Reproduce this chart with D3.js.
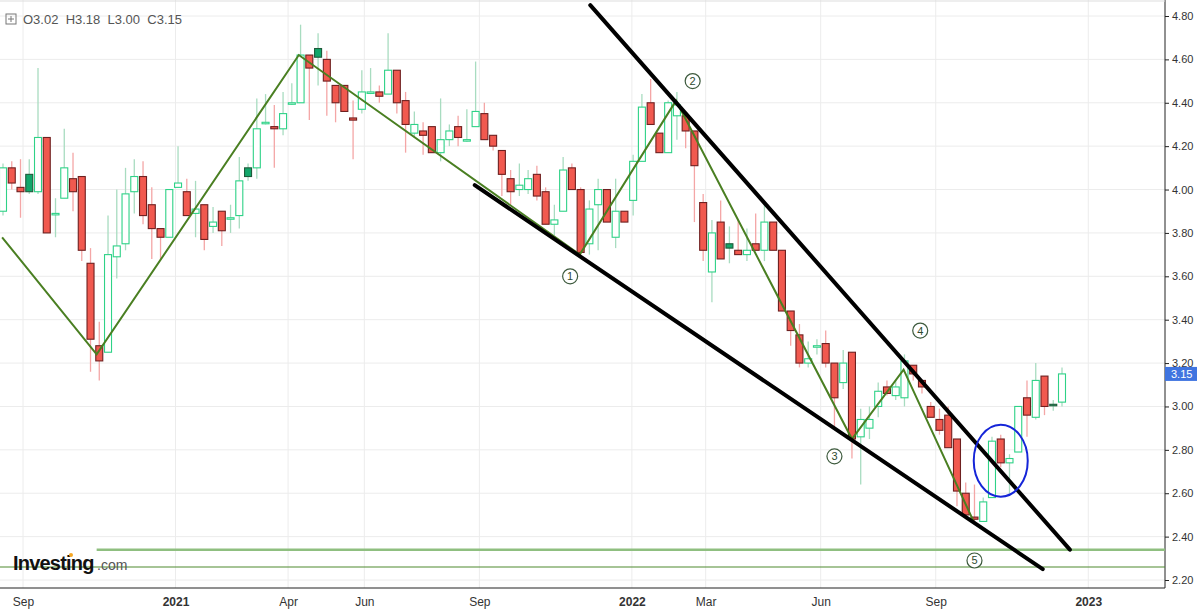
<!DOCTYPE html>
<html><head><meta charset="utf-8">
<script src="https://cdn.jsdelivr.net/npm/d3@7"></script>
<style>body{margin:0;background:#fff;font-family:Arial,"Liberation Sans",sans-serif}</style>
</head><body><div id="stage"></div>
<script>
// weekly candles
const opens  = [3.90,4.10,4.01,3.99,3.99,4.24,3.89,3.96,4.05,4.06,3.66,3.28,3.25,3.69,3.75,3.99,4.06,3.93,3.82,3.78,4.01,3.99,3.89,3.93,3.83,3.90,3.87,3.88,4.06,4.10,4.31,4.29,4.28,4.40,4.40,4.62,4.61,4.60,4.48,4.48,4.33,4.37,4.45,4.45,4.44,4.55,4.41,4.26,4.27,4.29,4.17,4.23,4.29,4.23,4.29,4.35,4.25,4.18,4.05,4.00,4.00,4.07,3.99,3.84,3.90,4.10,4.00,3.75,3.93,4.00,3.78,3.90,3.95,4.13,4.40,4.26,4.17,4.34,4.34,4.27,3.94,3.62,3.85,3.73,3.72,3.70,3.75,3.72,3.85,3.72,3.44,3.33,3.20,3.28,3.29,3.20,3.11,3.25,2.86,2.90,3.00,3.09,3.05,3.04,3.19,3.12,3.00,2.94,2.96,2.85,2.60,2.49,2.47,2.58,2.85,2.74,2.79,3.04,2.95,3.14,3.01,3.02];
const highs  = [4.12,4.13,4.14,4.14,4.56,4.24,3.96,4.28,4.17,4.06,3.73,3.39,3.88,4.00,4.10,4.14,4.13,4.01,3.82,4.00,4.20,4.05,4.04,3.93,3.92,3.90,3.93,4.15,4.12,4.42,4.44,4.39,4.45,4.49,4.76,4.62,4.72,4.64,4.48,4.48,4.41,4.55,4.56,4.48,4.72,4.55,4.45,4.36,4.31,4.29,4.42,4.30,4.34,4.37,4.59,4.40,4.25,4.18,4.09,4.12,4.09,4.11,4.01,3.93,4.15,4.12,4.01,3.95,4.05,4.00,4.05,3.90,4.16,4.44,4.51,4.26,4.41,4.45,4.36,4.27,3.98,3.86,3.95,3.83,3.86,3.82,3.89,3.94,3.85,3.72,3.44,3.38,3.30,3.31,3.35,3.20,3.26,3.25,2.99,3.00,3.11,3.12,3.12,3.24,3.19,3.12,3.02,2.99,3.00,2.85,2.65,2.64,2.58,2.86,2.87,2.78,3.00,3.12,3.20,3.14,3.03,3.18];
const lows   = [3.88,4.00,3.87,3.98,3.98,3.80,3.78,3.96,3.90,3.67,3.16,3.12,3.25,3.59,3.72,3.89,3.84,3.68,3.68,3.78,4.01,3.88,3.78,3.72,3.80,3.74,3.80,3.82,4.04,4.05,4.30,4.10,4.25,4.39,4.40,4.32,4.48,4.34,4.31,4.36,4.14,4.35,4.44,4.40,4.44,4.35,4.17,4.24,4.16,4.17,4.13,4.20,4.20,4.22,4.29,4.23,4.18,3.97,3.93,3.97,3.98,3.95,3.84,3.79,3.90,4.00,3.70,3.70,3.72,3.85,3.73,3.85,3.88,4.13,4.30,4.17,4.17,4.23,4.19,3.85,3.67,3.48,3.68,3.66,3.70,3.67,3.72,3.67,3.72,3.44,3.28,3.18,3.18,3.24,3.18,2.90,3.08,2.76,2.64,2.85,2.95,3.05,3.03,3.00,3.12,3.06,2.95,2.87,2.81,2.54,2.48,2.47,2.47,2.58,2.72,2.60,2.79,2.86,2.94,2.96,2.98,3.00];
const closes = [4.10,4.03,3.99,4.07,4.24,3.80,3.89,4.10,3.99,3.72,3.31,3.21,3.70,3.74,3.98,4.06,3.88,3.82,3.78,4.00,4.03,3.88,3.91,3.77,3.85,3.81,3.87,4.04,4.10,4.28,4.31,4.28,4.35,4.40,4.62,4.56,4.65,4.50,4.40,4.36,4.32,4.45,4.45,4.43,4.55,4.40,4.30,4.30,4.25,4.17,4.23,4.27,4.24,4.23,4.36,4.23,4.20,4.07,3.99,4.02,4.05,3.97,3.84,3.86,4.09,4.00,3.71,3.91,4.00,3.85,3.90,3.85,4.13,4.38,4.30,4.17,4.40,4.39,4.27,4.11,3.72,3.80,3.68,3.75,3.70,3.72,3.72,3.85,3.72,3.44,3.35,3.20,3.22,3.28,3.20,3.04,3.20,2.85,2.94,2.94,3.07,3.06,3.09,3.21,3.15,3.09,2.95,2.89,2.81,2.61,2.50,2.48,2.56,2.84,2.74,2.76,3.00,2.96,3.12,3.00,3.01,3.15];
const filledUp = [3, 28, 36, 83, 120];

const lastWeek = new Date(2022, 11, 11);
const priceTicks = [2.2, 2.4, 2.6, 2.8, 3.0, 3.2, 3.4, 3.6, 3.8, 4.0, 4.2, 4.4, 4.6, 4.8];
const timeTicks = [[2020,8,"Sep"],[2021,0,"2021"],[2021,3,"Apr"],[2021,5,"Jun"],[2021,8,"Sep"],[2022,0,"2022"],[2022,2,"Mar"],[2022,5,"Jun"],[2022,8,"Sep"],[2023,0,"2023"]];

// annotations: [week index, price]
const zigzag = [[-0.1,3.78],[10.7,3.24],[33.8,4.62],[65.9,3.70],[76.9,4.41],[97,2.85],[102.9,3.17],[110.9,2.47]];
const upperLine = [[67.1,4.85],[121.9,2.34]];
const lowerLine = [[53.9,4.02],[118.8,2.25]];
const waveLabels = [["1",64.8,3.60],["2",78.8,4.50],["3",95,2.77],["4",104.8,3.35],["5",111,2.29]];
const hLines = [[2.34,"#8fbf80",2.5,10.7],[2.26,"#4e8a2e",1.2,-1]];
const circle = [114, 2.75];

const W = 1200, H = 612, right = 1165, bottom = 588;
const n = opens.length;
const dates = opens.map((d, i) => d3.timeWeek.offset(lastWeek, i - n + 1));

const x = d3.scaleTime().domain([dates[0], dates[n - 1]]).range([3, 1062]);
const xi = i => x(dates[0]) + i * (x(dates[1]) - x(dates[0]));
const y = d3.scaleLinear().domain([2.2, 4.8]).range([580, 16]);

const svg = d3.select("#stage").append("svg").attr("width", W).attr("height", H);
svg.append("rect").attr("width", W).attr("height", H).attr("fill", "#fff");

svg.append("clipPath").attr("id", "c").append("rect").attr("x", 0).attr("y", 0).attr("width", right).attr("height", bottom);

// grid
const g = svg.append("g");
g.selectAll(".hg").data(priceTicks).join("line")
  .attr("x1", 0).attr("x2", right).attr("y1", d => y(d)).attr("y2", d => y(d))
  .attr("stroke", "#ececec");
g.selectAll(".vg").data(timeTicks).join("line")
  .attr("x1", d => x(new Date(d[0], d[1], 1))).attr("x2", d => x(new Date(d[0], d[1], 1)))
  .attr("y1", 0).attr("y2", bottom).attr("stroke", "#ececec");

// axes
svg.append("line").attr("x1", 0).attr("x2", right).attr("y1", bottom).attr("y2", bottom).attr("stroke", "#222");
svg.append("line").attr("x1", right).attr("x2", right).attr("y1", 0).attr("y2", bottom).attr("stroke", "#222");
svg.append("line").attr("x1", 0).attr("x2", right).attr("y1", 1).attr("y2", 1).attr("stroke", "#ddd");
const yAx = svg.append("g").attr("transform", `translate(${right},0)`)
  .call(d3.axisRight(y).tickValues(priceTicks).tickFormat(d3.format(".2f")).tickSize(4));
yAx.select(".domain").remove();
yAx.selectAll("text").attr("font-size", 11).attr("fill", "#333").attr("font-family", "Arial");
yAx.selectAll("line").attr("stroke", "#222");

const xAx = svg.append("g").attr("transform", `translate(0,${bottom})`)
  .call(d3.axisBottom(x).tickValues(timeTicks.map(d => new Date(d[0], d[1], 1)))
    .tickFormat((d, i) => timeTicks[i][2]).tickSize(0).tickPadding(9));
xAx.select(".domain").remove();
xAx.selectAll("text").attr("font-size", 12).attr("fill", "#333").attr("font-family", "Arial")
  .attr("font-weight", (d, i) => timeTicks[i][2].length === 4 ? "bold" : "normal");

const plot = svg.append("g").attr("clip-path", "url(#c)");

// horizontal support lines
hLines.forEach(h => {
  plot.append("line").attr("x1", h[3] < 0 ? 0 : xi(h[3])).attr("x2", right)
    .attr("y1", y(h[0])).attr("y2", y(h[0])).attr("stroke", h[1]).attr("stroke-width", h[2]);
});

// candles
const cw = 7;
const cg = plot.selectAll(".c").data(opens).join("g");
cg.append("line")
  .attr("x1", (d, i) => xi(i)).attr("x2", (d, i) => xi(i))
  .attr("y1", (d, i) => y(highs[i])).attr("y2", (d, i) => y(lows[i]))
  .attr("stroke", (d, i) => closes[i] >= opens[i] ? "#a8dcc0" : "#f4a6a6").attr("stroke-width", 1.3);
cg.append("rect")
  .attr("x", (d, i) => xi(i) - cw / 2)
  .attr("y", (d, i) => y(Math.max(opens[i], closes[i])))
  .attr("width", cw)
  .attr("height", (d, i) => Math.max(1.5, Math.abs(y(opens[i]) - y(closes[i]))))
  .attr("fill", (d, i) => closes[i] >= opens[i] ? (filledUp.includes(i) ? "#12a66a" : "#fff") : "#f1594f")
  .attr("stroke", (d, i) => closes[i] >= opens[i] ? (filledUp.includes(i) ? "#1f5a3a" : "#2ed287") : "#6e2020")
  .attr("stroke-width", 1.1);

// drawings
const line = d3.line().x(d => xi(d[0])).y(d => y(d[1]));
plot.append("path").attr("d", line(zigzag)).attr("fill", "none").attr("stroke", "#4a7f22").attr("stroke-width", 2);
[upperLine, lowerLine].forEach(l => {
  svg.append("path").attr("d", line(l)).attr("fill", "none").attr("stroke", "#000").attr("stroke-width", 4).attr("stroke-linecap", "round");
});
svg.append("ellipse").attr("cx", xi(circle[0])).attr("cy", y(circle[1])).attr("rx", 27).attr("ry", 36)
  .attr("fill", "none").attr("stroke", "#1525d8").attr("stroke-width", 2);
const wl = svg.selectAll(".wl").data(waveLabels).join("g")
  .attr("transform", d => `translate(${xi(d[1])},${y(d[2])})`);
wl.append("circle").attr("r", 7.5).attr("fill", "#fff").attr("stroke", "#3d5a3d").attr("stroke-width", 1.2);
wl.append("text").attr("text-anchor", "middle").attr("dy", "0.36em")
  .attr("font-size", 11).attr("fill", "#2f4a2f").attr("font-family", "Arial").text(d => d[0]);

// price tag
const last = closes[n - 1];
svg.append("rect").attr("x", right).attr("y", y(last) - 7).attr("width", 32).attr("height", 14).attr("fill", "#3f74e0");
svg.append("text").attr("x", right + 6).attr("y", y(last)).attr("dy", "0.35em").attr("font-size", 11)
  .attr("fill", "#fff").attr("font-family", "Arial").text(last.toFixed(2));

// header
svg.append("rect").attr("x", 6).attr("y", 14).attr("width", 10).attr("height", 10).attr("fill", "none").attr("stroke", "#777");
svg.append("path").attr("d", "M8,19H14M11,16V22").attr("stroke", "#777");
svg.append("text").attr("x", 23).attr("y", 24).attr("font-size", 13).attr("fill", "#555").attr("font-family", "Arial")
  .attr("xml:space", "preserve")
  .text(`O${opens[n-1].toFixed(2)}  H${highs[n-1].toFixed(2)}  L${lows[n-1].toFixed(2)}  C${closes[n-1].toFixed(2)}`);

// logo
svg.append("text").attr("x", 13).attr("y", 570).attr("font-size", 20).attr("font-weight", "bold")
  .attr("letter-spacing", "-0.8").attr("fill", "#111").attr("font-family", "Arial").text("Investing");
svg.append("text").attr("x", 97).attr("y", 570).attr("font-size", 14).attr("fill", "#555").attr("font-family", "Arial").text(".com");
svg.append("circle").attr("cx", 71).attr("cy", 555).attr("r", 2).attr("fill", "#f5a623");
</script></body></html>
